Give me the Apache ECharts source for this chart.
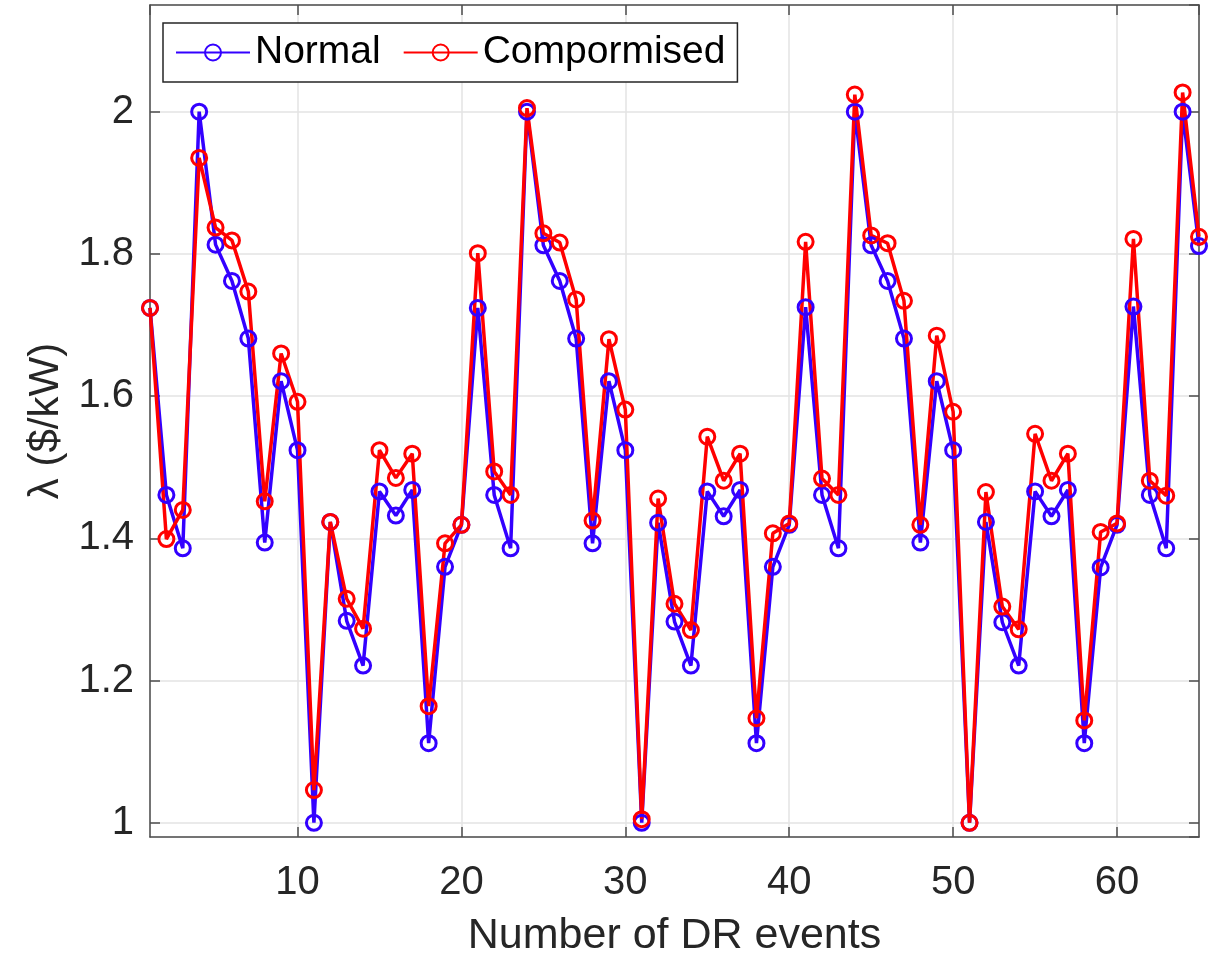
<!DOCTYPE html>
<html>
<head>
<meta charset="utf-8">
<script src="https://cdn.jsdelivr.net/npm/echarts@6/dist/echarts.min.js"></script>
<style>
  html, body { margin: 0; padding: 0; background: #fff; }
  #chart { width: 1216px; height: 959px; }
</style>
</head>
<body>
<div id="chart"></div>
<script>
// DR event index (x axis)
const events = Array.from({ length: 65 }, (_, i) => i + 1)

// λ under normal operation
const normal = [
  1.724, 1.461, 1.386, 2.000, 1.813, 1.762, 1.681, 1.394, 1.621, 1.524,
  1.000, 1.423, 1.284, 1.221, 1.466, 1.432, 1.468, 1.112, 1.360, 1.419,
  1.724, 1.461, 1.386, 2.000, 1.812, 1.762, 1.681, 1.393, 1.621, 1.524,
  1.000, 1.422, 1.283, 1.221, 1.466, 1.431, 1.468, 1.112, 1.360, 1.419,
  1.725, 1.461, 1.386, 2.000, 1.812, 1.762, 1.681, 1.394, 1.621, 1.524,
  1.000, 1.423, 1.282, 1.221, 1.466, 1.431, 1.468, 1.112, 1.359, 1.419,
  1.726, 1.461, 1.386, 2.000, 1.811
]

// λ under the compromised case
const compromised = [
  1.724, 1.399, 1.440, 1.935, 1.837, 1.819, 1.747, 1.452, 1.660, 1.592,
  1.046, 1.423, 1.315, 1.273, 1.524, 1.485, 1.519, 1.164, 1.393, 1.419,
  1.801, 1.494, 1.461, 2.005, 1.829, 1.816, 1.736, 1.425, 1.680, 1.581,
  1.005, 1.456, 1.308, 1.271, 1.543, 1.481, 1.519, 1.147, 1.407, 1.421,
  1.817, 1.484, 1.461, 2.024, 1.826, 1.815, 1.734, 1.419, 1.685, 1.578,
  1.000, 1.465, 1.304, 1.272, 1.547, 1.481, 1.519, 1.144, 1.409, 1.421,
  1.821, 1.481, 1.460, 2.027, 1.824
]

const FONT = '"Liberation Sans", Arial, Helvetica, sans-serif'
const TEXT = '#262626'
const AXIS = '#4d4d4d'
const GRID = '#e3e3e3'

const chart = echarts.init(document.getElementById('chart'))

const boxAxis = (pos, isX) => ({
  type: 'value',
  position: pos,
  min: isX ? 1 : 0.98,
  max: isX ? 65 : 2.15,
  axisLine: { show: true, onZero: false, lineStyle: { color: AXIS, width: 1.5 } },
  axisTick: { show: true, inside: true, length: 10, lineStyle: { color: AXIS, width: 1.5 } },
  axisLabel: { show: false },
  splitLine: { show: false }
})

const mkSeries = (name, values, color) => ({
  name,
  type: 'line',
  data: values.map((v, i) => [events[i], v]),
  symbol: 'circle',
  symbolSize: 15,
  clip: false,
  lineStyle: { color, width: 3.5 },
  itemStyle: { color: 'rgba(255,255,255,0)', borderColor: color, borderWidth: 3 },
  emphasis: { disabled: true }
})

chart.setOption({
  animation: false,
  backgroundColor: '#fff',
  textStyle: { fontFamily: FONT },
  grid: { left: 150, right: 17, top: 5, bottom: 122, containLabel: false, outerBoundsMode: 'none' },
  legend: {
    left: 163,
    top: 23,
    padding: [10, 12, 10, 12],
    itemWidth: 74,
    itemHeight: 20,
    itemGap: 22,
    backgroundColor: '#fff',
    borderColor: '#262626',
    borderWidth: 1.5,
    borderRadius: 0,
    textStyle: { fontSize: 39, color: '#000', fontFamily: FONT },
    data: ['Normal', 'Compormised']
  },
  xAxis: [
    {
      type: 'value',
      position: 'bottom',
      min: 1,
      max: 65,
      name: 'Number of DR events',
      nameLocation: 'middle',
      nameGap: 78,
      nameTextStyle: { fontSize: 43, color: TEXT, fontFamily: FONT },
      axisLine: { show: true, onZero: false, lineStyle: { color: AXIS, width: 1.5 } },
      axisTick: { show: true, inside: true, length: 10, lineStyle: { color: AXIS, width: 1.5 } },
      axisLabel: { fontSize: 40, color: TEXT, margin: 26, showMinLabel: false, showMaxLabel: false, fontFamily: FONT },
      splitLine: { show: true, lineStyle: { color: GRID, width: 1.5 } }
    },
    boxAxis('top', true)
  ],
  yAxis: [
    {
      type: 'value',
      position: 'left',
      min: 0.98,
      max: 2.15,
      name: 'λ ($/kW)',
      nameLocation: 'middle',
      nameGap: 82,
      nameRotate: 90,
      nameTextStyle: { fontSize: 42, color: TEXT, fontFamily: FONT },
      axisLine: { show: true, onZero: false, lineStyle: { color: AXIS, width: 1.5 } },
      axisTick: { show: true, inside: true, length: 10, lineStyle: { color: AXIS, width: 1.5 } },
      axisLabel: { fontSize: 40, color: TEXT, margin: 16, showMinLabel: false, showMaxLabel: false, fontFamily: FONT },
      splitLine: { show: true, lineStyle: { color: GRID, width: 1.5 } }
    },
    boxAxis('right', false)
  ],
  series: [
    mkSeries('Normal', normal, '#3300ff'),
    mkSeries('Compormised', compromised, '#ff0000')
  ]
})
</script>
</body>
</html>
